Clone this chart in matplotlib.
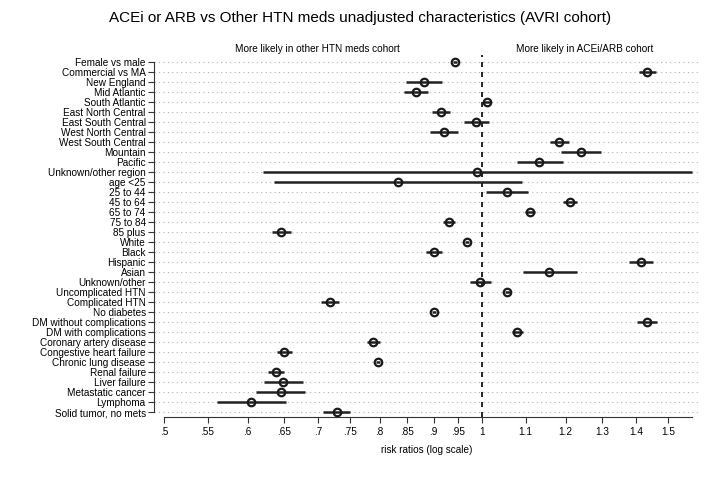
import numpy as np
import matplotlib
matplotlib.use("Agg")
import matplotlib.pyplot as plt
from matplotlib.ticker import NullLocator

plt.rcParams['font.family'] = ['Liberation Sans', 'DejaVu Sans']

labels = ["Female vs male", "Commercial vs MA", "New England", "Mid Atlantic",
          "South Atlantic", "East North Central", "East South Central",
          "West North Central", "West South Central", "Mountain", "Pacific",
          "Unknown/other region", "age <25", "25 to 44", "45 to 64", "65 to 74",
          "75 to 84", "85 plus", "White", "Black", "Hispanic", "Asian",
          "Unknown/other", "Uncomplicated HTN", "Complicated HTN", "No diabetes",
          "DM without complications", "DM with complications",
          "Coronary artery disease", "Congestive heart failure",
          "Chronic lung disease", "Renal failure", "Liver failure",
          "Metastatic cancer", "Lymphoma", "Solid tumor, no mets"]

rr = [0.943, 1.432, 0.881, 0.866, 1.012, 0.914, 0.988, 0.920, 1.183, 1.241,
      1.133, 0.990, 0.833, 1.057, 1.211, 1.110, 0.931, 0.646, 0.968, 0.901,
      1.413, 1.158, 0.996, 1.057, 0.718, 0.901, 1.434, 1.079, 0.789, 0.650,
      0.797, 0.638, 0.648, 0.645, 0.605, 0.729]

lo = [0.938, 1.408, 0.847, 0.844, 1.003, 0.896, 0.961, 0.892, 1.160, 1.188,
      1.080, 0.621, 0.636, 1.009, 1.194, 1.099, 0.919, 0.633, 0.963, 0.885,
      1.378, 1.093, 0.974, 1.052, 0.704, 0.897, 1.403, 1.067, 0.779, 0.640,
      0.793, 0.628, 0.622, 0.611, 0.562, 0.708]

hi = [0.948, 1.460, 0.917, 0.889, 1.019, 0.933, 1.016, 0.950, 1.209, 1.296,
      1.192, 1.581, 1.090, 1.105, 1.229, 1.123, 0.943, 0.660, 0.973, 0.917,
      1.450, 1.229, 1.019, 1.062, 0.733, 0.905, 1.465, 1.093, 0.801, 0.661,
      0.801, 0.649, 0.677, 0.680, 0.652, 0.750]

xticks = [0.5, 0.55, 0.6, 0.65, 0.7, 0.75, 0.8, 0.85, 0.9, 0.95, 1.0,
          1.1, 1.2, 1.3, 1.4, 1.5]
xticklabels = [".5", ".55", ".6", ".65", ".7", ".75", ".8", ".85", ".9", ".95",
               "1", "1.1", "1.2", "1.3", "1.4", "1.5"]

fs = 7.2

fig = plt.figure(figsize=(7.2, 4.8), dpi=100)
ax = fig.add_axes([154/720, 1-417/480, 546/720, 362/480])

y = np.arange(len(labels))
ax.set_xscale('log')
ax.set_xlim(0.4894, 1.608)
ax.set_ylim(35.5, -0.7)

for yi in y:
    ax.axhline(yi, color='#b0b0b0', lw=0.8, ls=(0, (1, 3)), zorder=0)

ax.axvline(1.0, color='black', lw=1.2, ls=(0, (3, 3)), zorder=1)

ax.hlines(y, lo, hi, color='#222222', lw=1.8, zorder=2)
ax.plot(rr, y, 'o', ms=5.4, mfc='none', mec='#1a1a1a', mew=1.6, zorder=3)

ax.set_yticks(y)
ax.set_yticklabels(labels, fontsize=fs)
ax.set_xticks(xticks)
ax.set_xticklabels(xticklabels, fontsize=fs)
ax.xaxis.set_minor_locator(NullLocator())
ax.tick_params(axis='both', direction='out', length=4, width=0.8, color='#333333')
ax.tick_params(axis='y', pad=2)
ax.tick_params(axis='x', pad=3)

for s in ['top', 'right']:
    ax.spines[s].set_visible(False)
ax.spines['left'].set_bounds(0, 35)
ax.spines['bottom'].set_bounds(0.5, 1.58)
ax.spines['left'].set_color('#333333')
ax.spines['bottom'].set_color('#333333')
ax.spines['left'].set_linewidth(0.8)
ax.spines['bottom'].set_linewidth(0.8)

ax.set_xlabel("risk ratios (log scale)", fontsize=fs, labelpad=6)

ax.text(0.300, 1.017, "More likely in other HTN meds cohort", transform=ax.transAxes,
        ha='center', va='center', fontsize=fs)
ax.text(0.789, 1.017, "More likely in ACEi/ARB cohort", transform=ax.transAxes,
        ha='center', va='center', fontsize=fs)

fig.text(0.5, 1-18/480, "ACEi or ARB vs Other HTN meds unadjusted characteristics (AVRI cohort)",
         ha='center', va='center', fontsize=11.0)

fig.savefig("out.png", dpi=100, facecolor='white')
